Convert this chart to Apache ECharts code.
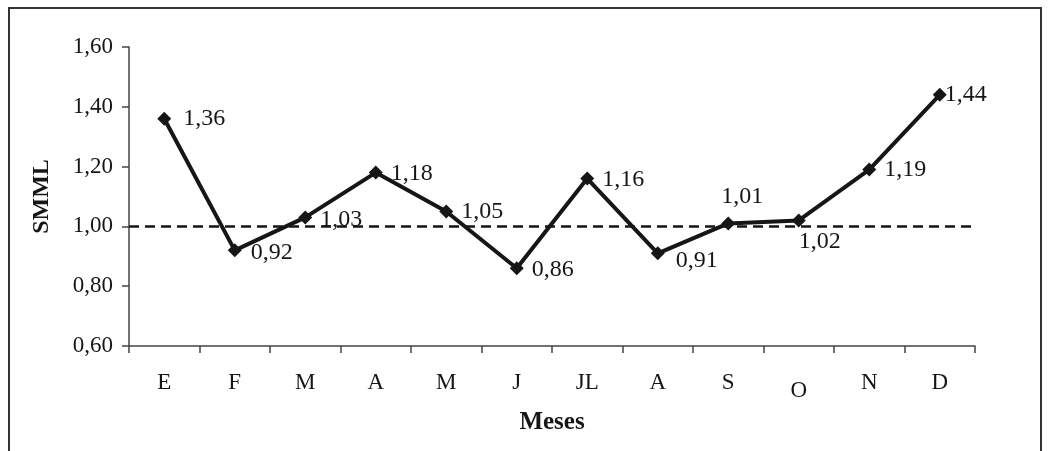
<!DOCTYPE html>
<html><head><meta charset="utf-8">
<script src="https://cdn.jsdelivr.net/npm/echarts@6/dist/echarts.min.js"></script>
<style>html,body{margin:0;padding:0;background:#fff}#c{width:1053px;height:451px}</style>
</head><body><div id="c"></div>
<script>
var categories = ['E','F','M','A','M','J','JL','A','S','O','N','D'];
var smml = [1.36, 0.92, 1.03, 1.18, 1.05, 0.86, 1.16, 0.91, 1.01, 1.02, 1.19, 1.44];
var reference = 1.00;
var yTicks = [0.60, 0.80, 1.00, 1.20, 1.40, 1.60];

var labelPos = [
  {position:'right', offset:[4,0]},
  {position:'right', offset:[1,2]},
  {position:'right', offset:[0,2]},
  {position:'right', offset:[0,1]},
  {position:'right', offset:[0,0]},
  {position:'right', offset:[0,1]},
  {position:'right', offset:[0,1]},
  {position:'right', offset:[3,7]},
  {position:'top', offset:[14,0]},
  {position:'bottom', offset:[21,-6]},
  {position:'right', offset:[0,0]},
  {position:'right', offset:[-10,0]}
];
var font = '"Liberation Serif", "Times New Roman", serif';
var ink = '#161616';
var chart = echarts.init(document.getElementById('c'));
chart.setOption({
  animation:false,
  graphic:[{type:'rect', shape:{x:9, y:8, width:1032, height:480}, style:{fill:'none', stroke:'#333', lineWidth:2}, silent:true}],
  grid:{left:129, right:78, top:47, bottom:105},
  xAxis:{
    type:'category', data:categories.map(function(c,i){
      return i===9 ? {value:c, textStyle:{padding:[8,0,0,0]}} : c;
    }),
    boundaryGap:true,
    name:'Meses', nameLocation:'middle', nameGap:64,
    nameTextStyle:{fontFamily:font, fontSize:25, fontWeight:'bold', color:ink},
    axisLine:{lineStyle:{color:'#444', width:1.5}},
    axisTick:{show:true, length:7, inside:false, lineStyle:{color:'#444', width:1.5}},
    axisLabel:{fontFamily:font, fontSize:23, color:ink, margin:25}
  },
  yAxis:{
    type:'value', min:0.6, max:1.6, interval:0.2,
    name:'SMML', nameLocation:'middle', nameGap:75,
    nameTextStyle:{fontFamily:font, fontSize:24, fontWeight:'bold', color:ink},
    axisLine:{show:true, lineStyle:{color:'#444', width:1.5}},
    axisTick:{show:true, length:7, lineStyle:{color:'#444', width:1.5}},
    splitLine:{show:false},
    axisLabel:{fontFamily:font, fontSize:23, color:ink, margin:16,
      formatter:function(v){ return v.toFixed(2).replace('.',','); }}
  },
  series:[{
    type:'line',
    data:smml.map(function(v,i){
      return {value:v, label:{position:labelPos[i].position, offset:labelPos[i].offset}};
    }),
    symbol:'diamond', symbolSize:14,
    lineStyle:{color:ink, width:4},
    itemStyle:{color:ink},
    label:{show:true, fontFamily:font, fontSize:24, color:ink, distance:8,
      formatter:function(p){ return p.value.toFixed(2).replace('.',','); }},
    markLine:{
      silent:true, symbol:'none',
      data:[{yAxis:reference}],
      label:{show:false},
      lineStyle:{color:ink, type:[10,6], width:2.5}
    },
    z:3
  }]
});
</script></body></html>
